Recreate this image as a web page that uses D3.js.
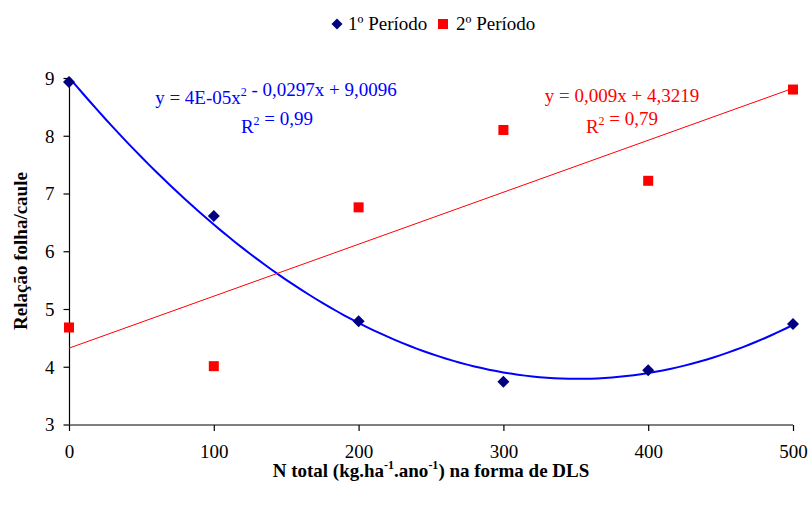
<!DOCTYPE html>
<html>
<head>
<meta charset="utf-8">
<script src="https://cdn.jsdelivr.net/npm/d3@7"></script>
<style>
  html, body { margin: 0; padding: 0; background: #fff; }
  svg { display: block; }
  svg text { font-family: "Liberation Serif", "Times New Roman", Tinos, "DejaVu Serif", serif !important; }
</style>
</head>
<body>
<svg id="chart" width="810" height="507" font-family="Liberation Serif, Times New Roman, serif"></svg>
<script>
// N doses (kg/ha/ano) and leaf/stem ratio per period
const doses = [0, 100, 200, 300, 400, 500];
const periodo1 = [8.93, 6.61, 4.79, 3.74, 3.94, 4.74];
const periodo2 = [4.68, 4.01, 6.76, 8.10, 7.22, 8.80];
const seriesNames = ["1º Período", "2º Período"];
const xTicks = [0, 100, 200, 300, 400, 500];
const yTicks = [3, 4, 5, 6, 7, 8, 9];
// Regression for the 2nd period as printed on the chart
const linearCoef = { slope: 0.009, intercept: 4.3219 };

const svg = d3.select("#chart");
const margin = { left: 69, right: 17, top: 78, bottom: 82.5 };
const W = 810, H = 507;
const FS = "19px";

const x = d3.scaleLinear().domain([0, 500]).range([margin.left, W - margin.right]);
const y = d3.scaleLinear().domain([3, 9]).range([H - margin.bottom, margin.top]);

// Least-squares quadratic fit for the 1st period (trendline)
function quadFit(xs, ys) {
  let s = [0, 0, 0, 0, 0], t = [0, 0, 0];
  xs.forEach((xi, i) => {
    for (let k = 0; k < 5; k++) s[k] += Math.pow(xi, k);
    for (let k = 0; k < 3; k++) t[k] += Math.pow(xi, k) * ys[i];
  });
  const M = [[s[0], s[1], s[2], t[0]], [s[1], s[2], s[3], t[1]], [s[2], s[3], s[4], t[2]]];
  for (let i = 0; i < 3; i++) {
    for (let j = i + 1; j < 3; j++) {
      const f = M[j][i] / M[i][i];
      for (let k = i; k < 4; k++) M[j][k] -= f * M[i][k];
    }
  }
  const c = [0, 0, 0];
  for (let i = 2; i >= 0; i--) {
    let v = M[i][3];
    for (let k = i + 1; k < 3; k++) v -= M[i][k] * c[k];
    c[i] = v / M[i][i];
  }
  return c; // c0 + c1 x + c2 x^2
}
const qc = quadFit(doses, periodo1);
const curvePts = d3.range(0, 501, 5).map(d => [d, qc[0] + qc[1] * d + qc[2] * d * d]);

// Axes
const xAxis = d3.axisBottom(x).tickValues(xTicks).tickSize(6).tickFormat(d3.format("d"));
const yAxis = d3.axisLeft(y).tickValues(yTicks).tickSize(6).tickFormat(d3.format("d"));

const gx = svg.append("g").attr("transform", `translate(0,${y(3) + 0.5})`).call(xAxis);
const gy = svg.append("g").attr("transform", `translate(${margin.left + 0.5},0)`).call(yAxis);
[gx, gy].forEach(g => {
  g.attr("font-family", null).attr("font-size", null);
  g.select(".domain").attr("stroke", "#000").attr("stroke-width", 1.2);
  g.selectAll(".tick line").attr("stroke", "#000").attr("stroke-width", 1.2);
  g.selectAll(".tick text").attr("fill", "#000").style("font-size", FS);
});
gy.select(".domain").attr("d", `M0,${y(3)}V${y(9)}`);
gx.select(".domain").attr("d", `M${x(0)},0H${x(500)}`);
gx.selectAll(".tick text").attr("dy", "0").attr("y", 33);
gy.selectAll(".tick text").attr("x", -15).attr("dy", "0.34em");

// Trendlines
svg.append("path")
  .datum(curvePts)
  .attr("fill", "none")
  .attr("stroke", "#0000FF")
  .attr("stroke-width", 2)
  .attr("d", d3.line().x(d => x(d[0])).y(d => y(d[1])));

svg.append("path")
  .datum([0, 500])
  .attr("fill", "none")
  .attr("stroke", "#FF0000")
  .attr("stroke-width", 1)
  .attr("d", d3.line().x(d => x(d)).y(d => y(linearCoef.intercept + linearCoef.slope * d)));

// Markers
const diamond = s => `M0,${-s}L${s},0L0,${s}L${-s},0Z`;
svg.append("g").selectAll("path")
  .data(doses.map((d, i) => [d, periodo1[i]]))
  .join("path")
  .attr("transform", d => `translate(${x(d[0])},${y(d[1])})`)
  .attr("d", diamond(6))
  .attr("fill", "#000080");

svg.append("g").selectAll("rect")
  .data(doses.map((d, i) => [d, periodo2[i]]))
  .join("rect")
  .attr("x", d => x(d[0]) - 5)
  .attr("y", d => y(d[1]) - 5)
  .attr("width", 10)
  .attr("height", 10)
  .attr("fill", "#FF0000");

// Legend
const lg = svg.append("g");
lg.append("path").attr("transform", "translate(337,24)").attr("d", diamond(5.5)).attr("fill", "#000080");
lg.append("text").attr("x", 348).attr("y", 30).style("font-size", FS).text(seriesNames[0]);
lg.append("rect").attr("x", 438).attr("y", 19).attr("width", 10).attr("height", 10).attr("fill", "#FF0000");
lg.append("text").attr("x", 456).attr("y", 30).style("font-size", FS).text(seriesNames[1]);

// Equation labels
function eqText(parts, cx, yy, color) {
  const t = svg.append("text").attr("x", cx).attr("y", yy).attr("text-anchor", "middle")
    .attr("fill", color).style("font-size", FS);
  parts.forEach(p => {
    if (p.sup) {
      t.append("tspan").attr("dy", -8).style("font-size", "12px").text(p.sup);
      t.append("tspan").attr("dy", 8).text("");
    } else {
      t.append("tspan").text(p.t);
    }
  });
  return t;
}
eqText([{ t: "y = 4E-05x" }, { sup: "2" }, { t: " - 0,0297x + 9,0096" }], 276, 104, "#0000FF");
eqText([{ t: "R" }, { sup: "2" }, { t: " = 0,99" }], 277, 133, "#0000FF");
eqText([{ t: "y = 0,009x + 4,3219" }], 622, 102, "#FF0000");
eqText([{ t: "R" }, { sup: "2" }, { t: " = 0,79" }], 622, 133, "#FF0000");

// Axis titles
const xt = svg.append("text").attr("x", 431).attr("y", 477).attr("text-anchor", "middle")
  .style("font-size", FS).style("font-weight", "bold");
xt.append("tspan").text("N total (kg.ha");
xt.append("tspan").attr("dy", -8).style("font-size", "12px").text("-1");
xt.append("tspan").attr("dy", 8).text(".ano");
xt.append("tspan").attr("dy", -8).style("font-size", "12px").text("-1");
xt.append("tspan").attr("dy", 8).text(") na forma de DLS");

svg.append("text")
  .attr("transform", "translate(27,251) rotate(-90)")
  .attr("text-anchor", "middle")
  .style("font-size", FS).style("font-weight", "bold")
  .text("Relação folha/caule");
</script>
</body>
</html>
